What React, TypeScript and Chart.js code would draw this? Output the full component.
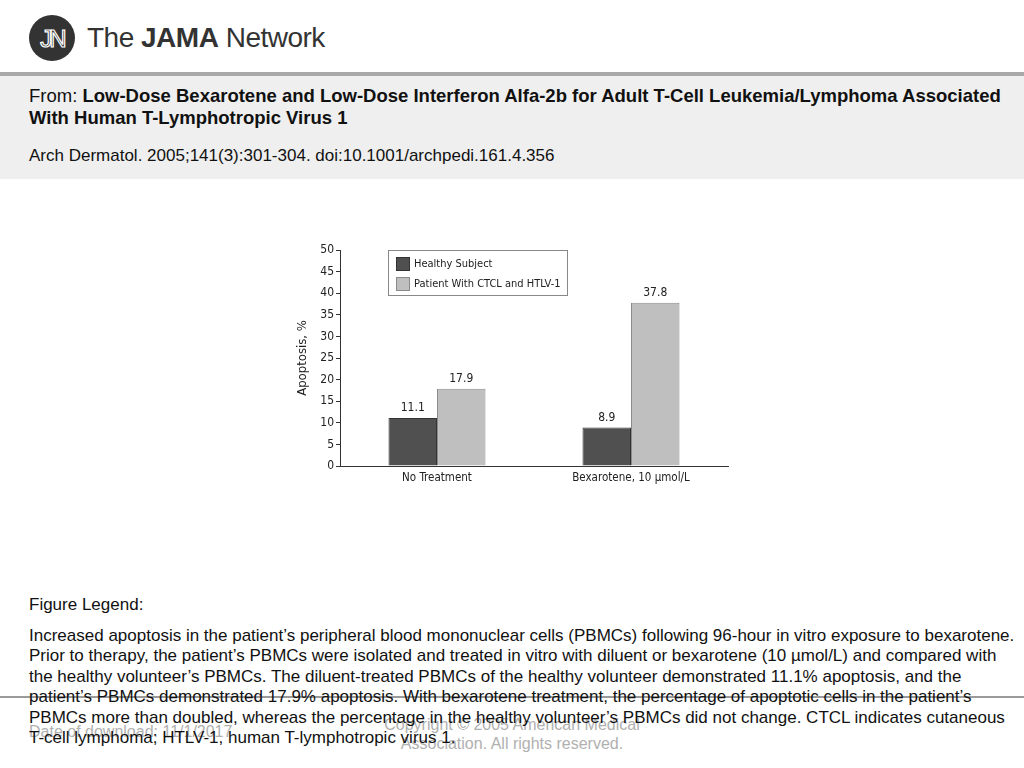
import React, { useEffect, useRef } from "react";
import { Chart, registerables } from "chart.js";

Chart.register(...registerables);

const categories = ["No Treatment", "Bexarotene, 10 µmol/L"];
const seriesNames = ["Healthy Subject", "Patient With CTCL and HTLV-1"];
const healthyValues = [11.1, 8.9];
const patientValues = [17.9, 37.8];
const yTickMin = 0;
const yTickMax = 50;
const yTickStep = 5;
const yAxisTitle = "Apoptosis, %";

const NARROW = '"DejaVu Sans Condensed", "Liberation Sans Narrow", Arial, sans-serif';
const SANS = '"Liberation Sans", Arial, Helvetica, sans-serif';

const valueLabelPlugin = {
  id: "valueLabels",
  afterDatasetsDraw(chart: any) {
    const ctx = chart.ctx;
    ctx.save();
    ctx.font = `12px ${NARROW}`;
    ctx.fillStyle = "#222";
    ctx.textAlign = "center";
    ctx.textBaseline = "bottom";
    chart.data.datasets.forEach((ds: any, i: number) => {
      chart.getDatasetMeta(i).data.forEach((bar: any, j: number) => {
        ctx.fillText(Number(ds.data[j]).toFixed(1), bar.x, bar.y - 4);
      });
    });
    ctx.restore();
  },
};

const boxLegendPlugin = {
  id: "boxLegend",
  afterDraw(chart: any) {
    const ctx = chart.ctx;
    const area = chart.chartArea;
    const x = area.left + 48;
    const y = area.top;
    const w = 179;
    const h = 45;
    ctx.save();
    ctx.fillStyle = "#fff";
    ctx.strokeStyle = "#888";
    ctx.lineWidth = 1;
    ctx.fillRect(x + 0.5, y + 0.5, w, h);
    ctx.strokeRect(x + 0.5, y + 0.5, w, h);
    ctx.font = `11px ${NARROW}`;
    ctx.textBaseline = "middle";
    ctx.textAlign = "left";
    chart.data.datasets.forEach((ds: any, i: number) => {
      const sy = y + 7 + i * 20;
      ctx.fillStyle = ds.backgroundColor;
      ctx.fillRect(x + 8.5, sy + 0.5, 13, 13);
      ctx.strokeStyle = ds.borderColor;
      ctx.strokeRect(x + 8.5, sy + 0.5, 13, 13);
      ctx.fillStyle = "#222";
      ctx.fillText(ds.label, x + 26, sy + 7);
    });
    ctx.restore();
  },
};

function BarChart() {
  const ref = useRef<HTMLCanvasElement | null>(null);
  useEffect(() => {
    if (!ref.current) return;
    const chart = new Chart(ref.current, {
      type: "bar",
      data: {
        labels: categories,
        datasets: [
          {
            label: seriesNames[0],
            data: healthyValues,
            backgroundColor: "#505050",
            borderColor: "#333333",
            borderWidth: 1,
            categoryPercentage: 0.5,
            barPercentage: 1.0,
          },
          {
            label: seriesNames[1],
            data: patientValues,
            backgroundColor: "#bfbfbf",
            borderColor: "#8a8a8a",
            borderWidth: 1,
            categoryPercentage: 0.5,
            barPercentage: 1.0,
          },
        ],
      },
      options: {
        animation: false,
        responsive: false,
        maintainAspectRatio: false,
        layout: { padding: { top: 12, right: 15, bottom: 0, left: 0 } },
        plugins: {
          legend: { display: false },
          tooltip: { enabled: false },
        },
        scales: {
          x: {
            grid: { display: false, drawTicks: false },
            border: { display: true, color: "#333", width: 1 },
            ticks: { color: "#222", font: { size: 11.5, family: NARROW }, padding: 5 },
            afterFit: (s: any) => {
              s.height = 24;
            },
          },
          y: {
            min: yTickMin,
            max: yTickMax,
            grid: { display: true, drawOnChartArea: false, drawTicks: true, tickLength: 4, color: "#333" },
            border: { display: true, color: "#333", width: 1 },
            ticks: { stepSize: yTickStep, color: "#222", font: { size: 12, family: NARROW }, padding: 2 },
            title: {
              display: true,
              text: yAxisTitle,
              color: "#222",
              font: { size: 13, family: NARROW },
              padding: { top: 12, bottom: 0 },
            },
            afterFit: (s: any) => {
              s.width = 57;
            },
          },
        },
      },
      plugins: [valueLabelPlugin, boxLegendPlugin],
    });
    return () => chart.destroy();
  }, []);
  return <canvas ref={ref} width={460} height={252} style={{ position: "absolute", left: 283, top: 238, width: 460, height: 252 }} />;
}

export default function App() {
  const abs = (o: React.CSSProperties): React.CSSProperties => ({ position: "absolute", ...o });
  return (
    <div style={{ position: "absolute", left: 0, top: 0, width: 1024, height: 768, background: "#fff", overflow: "hidden", fontFamily: SANS, color: "#111" }}>
      <svg width={60} height={60} style={abs({ left: 22, top: 8 })}>
        <circle cx={30} cy={30} r={23} fill="#333" />
        <text x={30} y={39} textAnchor="middle" fontFamily={SANS} fontSize={24} fill="none" stroke="#fff" strokeWidth={1.2} letterSpacing={-3}>JN</text>
      </svg>
      <div style={abs({ left: 87, top: 20, fontSize: 28, color: "#333", whiteSpace: "nowrap", lineHeight: "36px", letterSpacing: -0.5 })}>
        The <b>JAMA</b> Network
      </div>
      <div style={abs({ left: 0, top: 72, width: 1024, height: 4, background: "#a9a9a9" })} />
      <div style={abs({ left: 0, top: 76, width: 1024, height: 103, background: "#efefef" })} />
      <div style={abs({ left: 29, top: 85, fontSize: 18.5, lineHeight: "22px", whiteSpace: "nowrap", color: "#111" })}>
        From: <b>Low-Dose Bexarotene and Low-Dose Interferon Alfa-2b for Adult T-Cell Leukemia/Lymphoma Associated</b>
        <br />
        <b>With Human T-Lymphotropic Virus 1</b>
      </div>
      <div style={abs({ left: 29, top: 145, fontSize: 17, lineHeight: "22px", whiteSpace: "nowrap", color: "#111" })}>
        Arch Dermatol. 2005;141(3):301-304. doi:10.1001/archpedi.161.4.356
      </div>
      <BarChart />
      <div style={abs({ left: 29, top: 594, fontSize: 17, lineHeight: "22px", whiteSpace: "nowrap" })}>Figure Legend:</div>
      <div style={abs({ left: 0, top: 696, width: 1024, height: 2, background: "#9a9a9a" })} />
      <div style={abs({ left: 29, top: 722, fontSize: 16, lineHeight: "20px", whiteSpace: "nowrap", color: "#b0b0b0" })}>Date of download:  11/1/2017</div>
      <div style={abs({ left: 312, top: 715, width: 400, textAlign: "center", fontSize: 16, lineHeight: "19px", color: "#b0b0b0" })}>
        Copyright © 2005 American Medical
        <br />
        Association. All rights reserved.
      </div>
      <div style={abs({ left: 29, top: 626, fontSize: 17, lineHeight: "20.4px", whiteSpace: "nowrap", color: "#111" })}>
        Increased apoptosis in the patient’s peripheral blood mononuclear cells (PBMCs) following 96-hour in vitro exposure to bexarotene.
        <br />
        Prior to therapy, the patient’s PBMCs were isolated and treated in vitro with diluent or bexarotene (10 µmol/L) and compared with
        <br />
        the healthy volunteer’s PBMCs. The diluent-treated PBMCs of the healthy volunteer demonstrated 11.1% apoptosis, and the
        <br />
        patient’s PBMCs demonstrated 17.9% apoptosis. With bexarotene treatment, the percentage of apoptotic cells in the patient’s
        <br />
        PBMCs more than doubled, whereas the percentage in the healthy volunteer’s PBMCs did not change. CTCL indicates cutaneous
        <br />
        T-cell lymphoma; HTLV-1, human T-lymphotropic virus 1.
      </div>
    </div>
  );
}
